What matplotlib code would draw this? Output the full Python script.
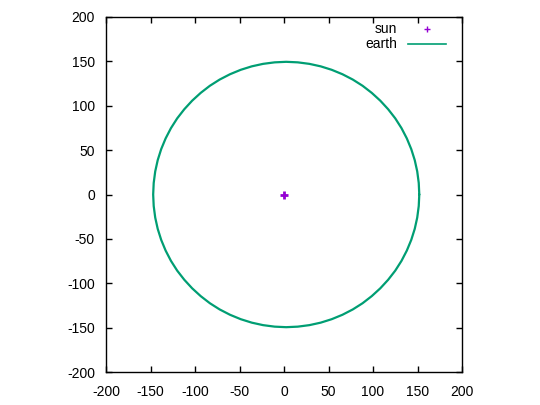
import matplotlib
matplotlib.use("Agg")
import matplotlib.pyplot as plt

plt.rcParams['font.family'] = ['Liberation Sans', 'DejaVu Sans']
plt.rcParams['axes.unicode_minus'] = False

# Earth orbit points (every 5 degrees, counter-clockwise)
earth_x = [152.0, 151.4, 149.7, 146.9, 143.0, 138.0, 132.0, 125.0, 117.0, 108.2,
           98.6, 88.3, 77.3, 65.7, 53.6, 41.2, 28.5, 15.5, 2.5,
           -10.5, -23.5, -36.2, -48.6, -60.7, -72.3, -83.3, -93.6, -103.2,
           -112.0, -120.0, -127.0, -133.0, -138.0, -141.9, -144.7, -146.4, -147.0,
           -146.4, -144.7, -141.9, -138.0, -133.0, -127.0, -120.0, -112.0,
           -103.2, -93.6, -83.3, -72.3, -60.7, -48.6, -36.2, -23.5, -10.5,
           2.5, 15.5, 28.5, 41.2, 53.6, 65.7, 77.3, 88.3, 98.6,
           108.2, 117.0, 125.0, 132.0, 138.0, 143.0, 146.9, 149.7, 151.4, 152.0]
earth_y = [0.0, 13.0, 26.0, 38.7, 51.1, 63.2, 74.8, 85.8, 96.1, 105.7,
           114.5, 122.5, 129.5, 135.5, 140.5, 144.4, 147.2, 148.9, 149.5,
           148.9, 147.2, 144.4, 140.5, 135.5, 129.5, 122.5, 114.5, 105.7,
           96.1, 85.8, 74.8, 63.2, 51.1, 38.7, 26.0, 13.0, 0.0,
           -13.0, -26.0, -38.7, -51.1, -63.2, -74.8, -85.8, -96.1,
           -105.7, -114.5, -122.5, -129.5, -135.5, -140.5, -144.4, -147.2, -148.9,
           -149.5, -148.9, -147.2, -144.4, -140.5, -135.5, -129.5, -122.5, -114.5,
           -105.7, -96.1, -85.8, -74.8, -63.2, -51.1, -38.7, -26.0, -13.0, 0.0]
sun_x = [0.0]
sun_y = [0.0]
ticks = [-200, -150, -100, -50, 0, 50, 100, 150, 200]

fig = plt.figure(figsize=(5.4, 4.05), dpi=100)
W, H = 540, 405
ax = fig.add_axes([106 / W, 1 - 372 / H, 356 / W, 355 / H])

ax.plot(earth_x, earth_y, color='#009e73', lw=1.6, solid_joinstyle='round',
        solid_capstyle='round')
ax.plot(sun_x, sun_y, marker='+', ms=6, mew=2, color='#9400d3', ls='none')

ax.set_xlim(-200, 200)
ax.set_ylim(-200, 200)
ax.set_xticks(ticks)
ax.set_yticks(ticks)
ax.tick_params(direction='in', length=4, width=1, top=True, right=True,
               labelsize=10, colors='black')
ax.tick_params(axis='x', pad=9)
ax.tick_params(axis='y', pad=8)
for s in ax.spines.values():
    s.set_linewidth(1)

# gnuplot-style legend
ax.text(0.817, 0.966, 'sun', transform=ax.transAxes, ha='right', va='center', fontsize=10)
ax.text(0.817, 0.924, 'earth', transform=ax.transAxes, ha='right', va='center', fontsize=10)
ax.plot([0.902], [0.966], transform=ax.transAxes, marker='+', ms=5, mew=1,
        color='#9400d3', ls='none')
ax.plot([0.848, 0.955], [0.924, 0.924], transform=ax.transAxes, color='#009e73', lw=1.2)

fig.savefig('out.png', dpi=100)
